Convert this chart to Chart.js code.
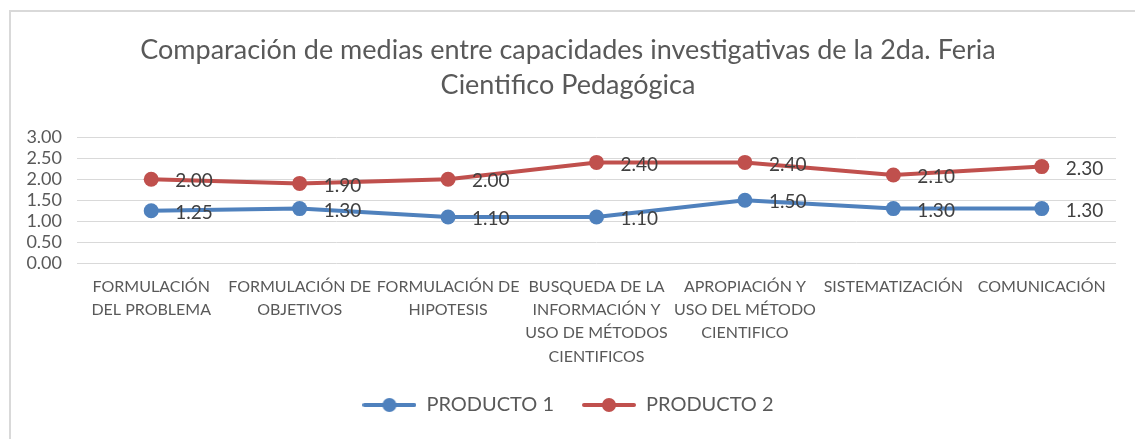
<!DOCTYPE html>
<html>
<head>
<meta charset="utf-8">
<script src="https://cdn.jsdelivr.net/npm/chart.js@4.4.1/dist/chart.umd.min.js"></script>
<style>
    html, body { margin: 0; padding: 0; background: #ffffff; }
    body { width: 1135px; height: 439px; position: relative; overflow: hidden; }
    #frame { position: absolute; left: 9px; top: 10px; width: 1200px; height: 500px;
             border-top: 2px solid #d9d9d9; border-left: 2px solid #d9d9d9; }
    #wrap { position: absolute; left: 0; top: 0; width: 1135px; height: 439px; }
</style>
</head>
<body>
<div id="frame"></div>
<div id="wrap"><canvas id="mediasChart"></canvas></div>
<script>
const categorias = [
    ['FORMULACIÓN', 'DEL PROBLEMA'],
    ['FORMULACIÓN DE', 'OBJETIVOS'],
    ['FORMULACIÓN DE', 'HIPOTESIS'],
    ['BUSQUEDA DE LA', 'INFORMACIÓN Y', 'USO DE MÉTODOS', 'CIENTIFICOS'],
    ['APROPIACIÓN Y', 'USO DEL MÉTODO', 'CIENTIFICO'],
    'SISTEMATIZACIÓN',
    'COMUNICACIÓN'
];
const producto1 = [1.25, 1.30, 1.10, 1.10, 1.50, 1.30, 1.30];
const producto2 = [2.00, 1.90, 2.00, 2.40, 2.40, 2.10, 2.30];
const nombresSeries = ['PRODUCTO 1', 'PRODUCTO 2'];
const tituloLineas = ['Comparación de medias entre capacidades investigativas de la 2da. Feria', 'Cientifico Pedagógica'];

const AZUL = '#4f81bd';
const ROJO = '#c0504d';
const FUENTE = "Lato, 'Open Sans', sans-serif";

// marcador de leyenda: linea con punto
function marcadorLeyenda(color) {
    const c = document.createElement('canvas');
    c.width = 54;
    c.height = 16;
    const g = c.getContext('2d');
    g.strokeStyle = color;
    g.lineWidth = 4;
    g.lineCap = 'round';
    g.beginPath();
    g.moveTo(2, 8);
    g.lineTo(52, 8);
    g.stroke();
    g.fillStyle = color;
    g.beginPath();
    g.arc(27, 8, 7, 0, Math.PI * 2);
    g.fill();
    return c;
}
const marcadores = [marcadorLeyenda(AZUL), marcadorLeyenda(ROJO)];

// etiquetas de valor a la derecha de cada punto
const etiquetasValor = {
    id: 'etiquetasValor',
    afterDatasetsDraw(chart) {
        const ctx = chart.ctx;
        ctx.save();
        ctx.font = '19px ' + FUENTE;
        ctx.fillStyle = '#404040';
        ctx.textAlign = 'left';
        ctx.textBaseline = 'middle';
        chart.data.datasets.forEach((ds, i) => {
            chart.getDatasetMeta(i).data.forEach((pt, j) => {
                ctx.fillText(ds.data[j].toFixed(2), pt.x + 24, pt.y + 2);
            });
        });
        ctx.restore();
    }
};

const ctx = document.getElementById('mediasChart');
new Chart(ctx, {
    type: 'line',
    data: {
        labels: categorias,
        datasets: [{
            label: nombresSeries[0],
            data: producto1,
            borderColor: AZUL,
            backgroundColor: AZUL,
            borderWidth: 4,
            pointRadius: 7.5,
            pointBackgroundColor: AZUL,
            pointBorderWidth: 0,
            tension: 0
        }, {
            label: nombresSeries[1],
            data: producto2,
            borderColor: ROJO,
            backgroundColor: ROJO,
            borderWidth: 4,
            pointRadius: 7.5,
            pointBackgroundColor: ROJO,
            pointBorderWidth: 0,
            tension: 0
        }]
    },
    options: {
        responsive: true,
        maintainAspectRatio: false,
        animation: false,
        layout: {
            padding: { left: 20, right: 19, top: 0, bottom: 14 }
        },
        scales: {
            y: {
                min: 0,
                max: 3,
                afterFit: (scale) => { scale.width = 57; },
                ticks: {
                    stepSize: 0.5,
                    autoSkip: false,
                    color: '#595959',
                    padding: 15,
                    font: { size: 18, family: FUENTE },
                    callback: (v) => Number(v).toFixed(2)
                },
                grid: {
                    color: '#d9d9d9',
                    lineWidth: 1,
                    drawTicks: false
                },
                border: { display: false }
            },
            x: {
                offset: true,
                afterFit: (scale) => { scale.height -= 13; },
                ticks: {
                    color: '#595959',
                    padding: 12,
                    maxRotation: 0,
                    autoSkip: false,
                    font: { size: 16, family: FUENTE, lineHeight: 1.45 }
                },
                grid: { display: false, drawTicks: false, offset: true },
                border: { display: false }
            }
        },
        plugins: {
            title: {
                display: true,
                text: tituloLineas,
                color: '#595959',
                font: { size: 27, family: FUENTE, weight: 'normal', lineHeight: 1.3 },
                padding: { top: 33, bottom: 34 }
            },
            legend: {
                position: 'bottom',
                labels: {
                    usePointStyle: true,
                    pointStyleWidth: 54,
                    color: '#595959',
                    padding: 28,
                    font: { size: 20, family: FUENTE },
                    generateLabels(chart) {
                        const items = Chart.defaults.plugins.legend.labels.generateLabels(chart);
                        items.forEach((it, i) => { it.pointStyle = marcadores[i]; });
                        return items;
                    }
                }
            },
            tooltip: { enabled: false }
        }
    },
    plugins: [etiquetasValor]
});
</script>
</body>
</html>
